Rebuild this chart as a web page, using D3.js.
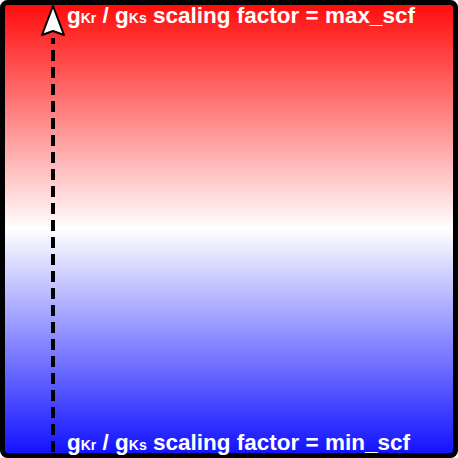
<!DOCTYPE html>
<html><head><meta charset="utf-8">
<script src="https://cdn.jsdelivr.net/npm/d3@7"></script>
<style>body{margin:0;background:#fff}text{font-family:"Liberation Sans",Arial,sans-serif;font-weight:bold;fill:#fff}</style>
</head><body>
<script>
// gradient stops, top to bottom
var stopOffsets = [0, 0.5, 1],
    stopColors = ["#ff0a0a", "#ffffff", "#1010ff"];
var labels = ["max_scf", "min_scf"];

var W = 458, H = 458;
var svg = d3.select("body").append("svg").attr("width", W).attr("height", H);

var grad = svg.append("defs").append("linearGradient")
    .attr("id", "g").attr("x1", 0).attr("y1", 0).attr("x2", 0).attr("y2", 1);
grad.selectAll("stop").data(stopOffsets).enter().append("stop")
    .attr("offset", function(d){ return d; })
    .attr("stop-color", function(d, i){ return stopColors[i]; });

svg.append("rect").attr("x", 2.5).attr("y", 2.5).attr("width", W - 5).attr("height", H - 5)
    .attr("rx", 5).attr("fill", "url(#g)").attr("stroke", "#000").attr("stroke-width", 5);

var y = d3.scaleLinear().domain([0, 1]).range([452, 6]);

svg.append("line").attr("x1", 53).attr("x2", 53).attr("y1", y(0)).attr("y2", y(0) - 414)
    .attr("stroke", "#000").attr("stroke-width", 4).attr("stroke-dasharray", "11,6");

svg.append("path")
    .attr("d", "M53," + y(1) + " L42,35 L53,31 L64,35 Z")
    .attr("fill", "#fff").attr("stroke", "#000").attr("stroke-width", 2).attr("stroke-linejoin", "round");

function label(yy, txt){
  var t = svg.append("text").attr("x", 67).attr("y", yy).attr("font-size", 22.5);
  t.append("tspan").text("g");
  t.append("tspan").attr("font-size", 14).text("Kr");
  t.append("tspan").text(" / g");
  t.append("tspan").attr("font-size", 14).text("Ks");
  t.append("tspan").text(" scaling factor = " + txt);
}
label(23, labels[0]);
label(450, labels[1]);
</script>
</body></html>
